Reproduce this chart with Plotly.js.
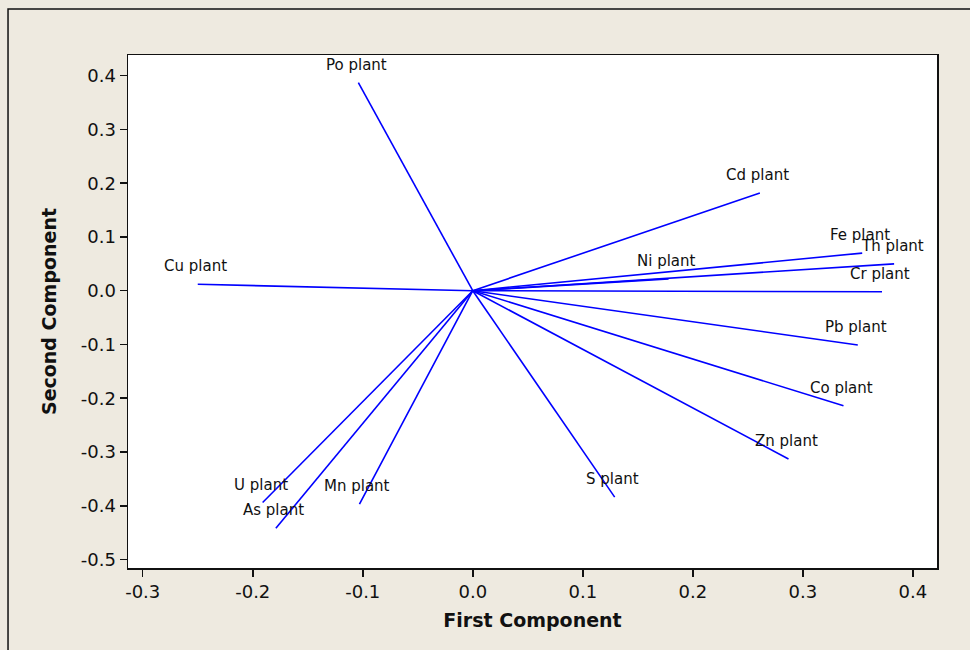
<!DOCTYPE html>
<html>
<head>
<meta charset="utf-8">
<script src="https://cdn.plot.ly/plotly-3.0.1.min.js"></script>
<style>
html,body{margin:0;padding:0;background:#EEEAE0;}
#chart{width:970px;height:650px;}
</style>
</head>
<body>
<div id="chart"></div>
<script>
// Variable names (loading vectors)
const variables = ["Po plant","Cd plant","Fe plant","Th plant","Ni plant","Cr plant","Pb plant","Co plant","Zn plant","S plant","Mn plant","As plant","U plant","Cu plant"];
// First component loadings
const firstComp = [-0.104, 0.261, 0.354, 0.383, 0.178, 0.372, 0.350, 0.337, 0.287, 0.129, -0.103, -0.179, -0.191, -0.250];
// Second component loadings
const secondComp = [0.387, 0.182, 0.070, 0.050, 0.022, -0.002, -0.101, -0.214, -0.313, -0.384, -0.397, -0.442, -0.394, 0.012];
// Tick labels
const xTickVals = [-0.3,-0.2,-0.1,0.0,0.1,0.2,0.3,0.4];
const xTickText = ["-0.3","-0.2","-0.1","0.0","0.1","0.2","0.3","0.4"];
const yTickVals = [-0.5,-0.4,-0.3,-0.2,-0.1,0.0,0.1,0.2,0.3,0.4];
const yTickText = ["-0.5","-0.4","-0.3","-0.2","-0.1","0.0","0.1","0.2","0.3","0.4"];

const lx = [], ly = [];
for (let i = 0; i < variables.length; i++) {
  lx.push(0, firstComp[i], null);
  ly.push(0, secondComp[i], null);
}

const traces = [{
  x: lx, y: ly, type: 'scatter', mode: 'lines',
  line: {color: '#0000FF', width: 1.6},
  hoverinfo: 'skip', showlegend: false
}];

const annotations = variables.map((v, i) => ({
  x: firstComp[i], y: secondComp[i], xref: 'x', yref: 'y',
  text: v, showarrow: false, xanchor: 'center', yanchor: 'middle',
  xshift: -2, yshift: 18,
  font: {family: 'DejaVu Sans', size: 15, color: '#111111'}
}));

const layout = {
  width: 970, height: 650,
  paper_bgcolor: '#EEEAE0', plot_bgcolor: '#FFFFFF',
  margin: {l: 128, r: 33, t: 55, b: 82, pad: 0},
  showlegend: false,
  font: {family: 'DejaVu Sans', color: '#111111'},
  xaxis: {
    range: [-0.3134, 0.422], tickvals: xTickVals, ticktext: xTickText,
    showgrid: false, zeroline: false, showline: true, mirror: true,
    linecolor: '#111111', linewidth: 1.5, ticks: 'outside', ticklen: 7, tickwidth: 1.5, tickcolor: '#111111',
    tickfont: {family: 'DejaVu Sans', size: 18, color: '#111111'},
    title: {text: '<b>First Component</b>', font: {family: 'DejaVu Sans', size: 19, color: '#111111'}, standoff: 12}
  },
  yaxis: {
    range: [-0.5158, 0.4385], tickvals: yTickVals, ticktext: yTickText,
    showgrid: false, zeroline: false, showline: true, mirror: true,
    linecolor: '#111111', linewidth: 1.5, ticks: 'outside', ticklen: 7, tickwidth: 1.5, tickcolor: '#111111',
    tickfont: {family: 'DejaVu Sans', size: 18, color: '#111111'},
    title: {text: '<b>Second Component</b>', font: {family: 'DejaVu Sans', size: 19, color: '#111111'}, standoff: 19}
  },
  annotations: annotations,
  shapes: [{
    type: 'rect', xref: 'paper', yref: 'paper',
    x0: -0.1483, x1: 1.3, y0: -0.4, y1: 1.0897,
    line: {color: '#111111', width: 1.5}, fillcolor: 'rgba(0,0,0,0)', layer: 'below'
  }]
};

Plotly.newPlot('chart', traces, layout, {staticPlot: true, displayModeBar: false});
</script>
</body>
</html>
